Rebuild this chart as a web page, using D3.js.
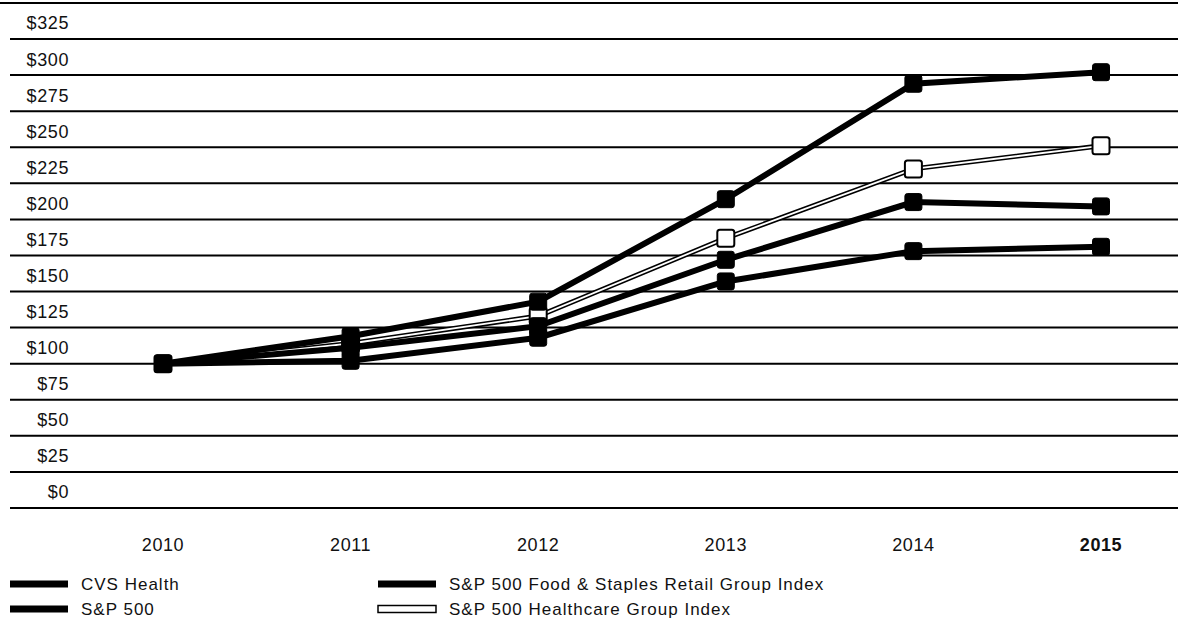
<!DOCTYPE html>
<html><head><meta charset="utf-8">
<script src="https://cdn.jsdelivr.net/npm/d3@7"></script>
<style>
html,body{margin:0;padding:0;background:#fff;}
svg text{font-family:"Liberation Sans",Arial,Helvetica,sans-serif;fill:#111;}
</style></head>
<body><svg id="c" width="1178" height="627"></svg>
<script>
const years = ["2010","2011","2012","2013","2014","2015"];
const yTicks = [0,25,50,75,100,125,150,175,200,225,250,275,300,325,350];
const cvs = [100,119,143,214,294,302];
const sp500 = [100,102,118,157,178,181];
const foodStaples = [100,111,126,172,212,209];
const healthcare = [100,114,133,187,235,251];
const seriesNames = ["CVS Health","S&P 500","S&P 500 Food & Staples Retail Group Index","S&P 500 Healthcare Group Index"];

const svg = d3.select("#c");
const x = d3.scalePoint().domain(years).range([163,1101]);
const y = d3.scaleLinear().domain([0,325]).range([508,39]);

// gridlines
const grid = svg.append("g");
yTicks.forEach(v=>{
  grid.append("line").attr("x1", v===350?0:10).attr("x2",1178)
    .attr("y1",y(v)).attr("y2",y(v)).attr("stroke","#000").attr("stroke-width",2);
});
// y labels
yTicks.filter(v=>v<=325).forEach(v=>{
  svg.append("text").attr("x",69).attr("y",y(v)-16).attr("dy","0.36em")
    .attr("text-anchor","end").attr("font-size",18).attr("letter-spacing",0.6)
    .text("$"+v);
});
// x labels
years.forEach((yr,i)=>{
  svg.append("text").attr("x",x(yr)).attr("y",545).attr("dy","0.36em")
    .attr("text-anchor","middle").attr("font-size",18).attr("letter-spacing",0.6)
    .attr("font-weight", i===years.length-1?"bold":"normal").text(yr);
});

const line = d3.line().x((d,i)=>x(years[i])).y(d=>y(d));
const plot = svg.append("g");
function drawSeries(vals, hollow){
  plot.append("path").datum(vals).attr("d",line).attr("fill","none")
    .attr("stroke","#000").attr("stroke-width",hollow?5:6);
  if(hollow){
    plot.append("path").datum(vals).attr("d",line).attr("fill","none")
      .attr("stroke","#fff").attr("stroke-width",1.8);
  }
  plot.selectAll(null).data(vals).enter().append("rect")
    .attr("x",(d,i)=>x(years[i])-8.5).attr("y",d=>y(d)-8.5)
    .attr("width",17).attr("height",17).attr("rx",2.5)
    .attr("fill",hollow?"#fff":"#000").attr("stroke","#000").attr("stroke-width",hollow?2:1);
}
drawSeries(healthcare,true);
drawSeries(sp500,false);
drawSeries(foodStaples,false);
drawSeries(cvs,false);

// legend
const leg = [
  {name:seriesNames[0], x:10, y:584, hollow:false},
  {name:seriesNames[1], x:10, y:609, hollow:false},
  {name:seriesNames[2], x:378, y:584, hollow:false},
  {name:seriesNames[3], x:378, y:609, hollow:true}
];
leg.forEach(l=>{
  svg.append("rect").attr("x",l.x).attr("y",l.y-3.5).attr("width",58).attr("height",7)
    .attr("fill",l.hollow?"#fff":"#000").attr("stroke","#000").attr("stroke-width",l.hollow?1.5:0);
  svg.append("text").attr("x",l.x+71).attr("y",l.y).attr("dy","0.36em")
    .attr("font-size",17).attr("letter-spacing",1.0).text(l.name);
});
</script></body></html>
